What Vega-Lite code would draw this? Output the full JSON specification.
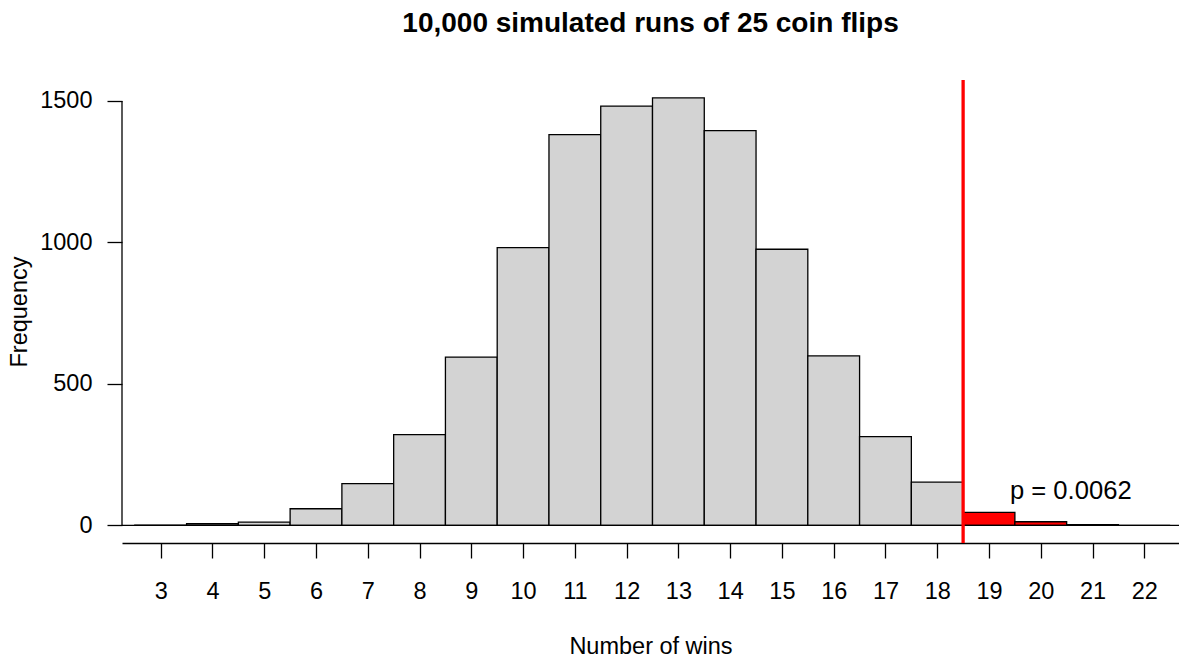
{
  "$schema": "https://vega.github.io/schema/vega-lite/v6.json",
  "width": 1057,
  "height": 463,
  "autosize": {"type": "none"},
  "padding": {"left": 122, "top": 80, "right": 0, "bottom": 115},
  "background": "white",
  "config": {
    "view": {"stroke": null},
    "font": "Liberation Sans"
  },
  "title": {
    "text": "10,000 simulated runs of 25 coin flips",
    "font": "Liberation Sans",
    "fontSize": 28,
    "fontWeight": "bold",
    "color": "black",
    "anchor": "middle",
    "baseline": "alphabetic",
    "offset": 18
  },
  "datasets": {
    "bars": [
      {"wins": 3, "x0": 2.5, "x1": 3.5, "count": 1, "tail": "no"},
      {"wins": 4, "x0": 3.5, "x1": 4.5, "count": 6, "tail": "no"},
      {"wins": 5, "x0": 4.5, "x1": 5.5, "count": 12, "tail": "no"},
      {"wins": 6, "x0": 5.5, "x1": 6.5, "count": 59, "tail": "no"},
      {"wins": 7, "x0": 6.5, "x1": 7.5, "count": 148, "tail": "no"},
      {"wins": 8, "x0": 7.5, "x1": 8.5, "count": 321, "tail": "no"},
      {"wins": 9, "x0": 8.5, "x1": 9.5, "count": 595, "tail": "no"},
      {"wins": 10, "x0": 9.5, "x1": 10.5, "count": 982, "tail": "no"},
      {"wins": 11, "x0": 10.5, "x1": 11.5, "count": 1381, "tail": "no"},
      {"wins": 12, "x0": 11.5, "x1": 12.5, "count": 1482, "tail": "no"},
      {"wins": 13, "x0": 12.5, "x1": 13.5, "count": 1511, "tail": "no"},
      {"wins": 14, "x0": 13.5, "x1": 14.5, "count": 1395, "tail": "no"},
      {"wins": 15, "x0": 14.5, "x1": 15.5, "count": 976, "tail": "no"},
      {"wins": 16, "x0": 15.5, "x1": 16.5, "count": 599, "tail": "no"},
      {"wins": 17, "x0": 16.5, "x1": 17.5, "count": 314, "tail": "no"},
      {"wins": 18, "x0": 17.5, "x1": 18.5, "count": 153, "tail": "no"},
      {"wins": 19, "x0": 18.5, "x1": 19.5, "count": 46, "tail": "yes"},
      {"wins": 20, "x0": 19.5, "x1": 20.5, "count": 13, "tail": "yes"},
      {"wins": 21, "x0": 20.5, "x1": 21.5, "count": 3, "tail": "yes"},
      {"wins": 22, "x0": 21.5, "x1": 22.5, "count": 0, "tail": "yes"}
    ]
  },
  "layer": [
    {
      "data": {"name": "bars"},
      "mark": {"type": "rect", "stroke": "black", "strokeWidth": 1.3},
      "encoding": {
        "x": {
          "field": "x0",
          "type": "quantitative",
          "scale": {"domain": [2.2525, 22.67], "nice": false, "zero": false},
          "axis": {
            "title": "Number of wins",
            "values": [3,4,5,6,7,8,9,10,11,12,13,14,15,16,17,18,19,20,21,22],
            "format": "d",
            "grid": false,
            "domain": true,
            "domainColor": "black",
            "domainWidth": 1.3,
            "ticks": true,
            "tickColor": "black",
            "tickWidth": 1.3,
            "tickSize": 15,
            "labelFont": "Liberation Sans",
            "labelFontSize": 23.5,
            "labelColor": "black",
            "labelPadding": 21,
            "labelFlush": false,
            "labelOverlap": false,
            "titleFont": "Liberation Sans",
            "titleFontSize": 23.5,
            "titleFontWeight": "normal",
            "titleColor": "black",
            "titleBaseline": "alphabetic",
            "titleY": 110
          }
        },
        "x2": {"field": "x1"},
        "y": {
          "field": "count",
          "type": "quantitative",
          "scale": {"domain": [-62, 1574], "nice": false, "zero": false},
          "axis": {
            "title": "Frequency",
            "values": [0, 500, 1000, 1500],
            "format": "d",
            "grid": false,
            "domain": false,
            "ticks": true,
            "tickColor": "black",
            "tickWidth": 1.3,
            "tickSize": 15,
            "labelFont": "Liberation Sans",
            "labelFontSize": 23.5,
            "labelColor": "black",
            "labelPadding": 15,
            "labelFlush": false,
            "labelOverlap": false,
            "titleFont": "Liberation Sans",
            "titleFontSize": 23.5,
            "titleFontWeight": "normal",
            "titleColor": "black",
            "titleBaseline": "alphabetic",
            "titleX": -95.3
          }
        },
        "y2": {"datum": 0},
        "fill": {
          "field": "tail",
          "type": "nominal",
          "scale": {"domain": ["no", "yes"], "range": ["#d3d3d3", "#ff0000"]},
          "legend": null
        }
      }
    },
    {
      "data": {"values": [{"level": 0}]},
      "mark": {"type": "rule", "color": "black", "strokeWidth": 1.3},
      "encoding": {
        "y": {"field": "level", "type": "quantitative"}
      }
    },
    {
      "data": {"values": [{"axisx": 2.2525, "from": 0, "to": 1500}]},
      "mark": {"type": "rule", "color": "black", "strokeWidth": 1.3},
      "encoding": {
        "x": {"field": "axisx", "type": "quantitative"},
        "y": {"field": "from", "type": "quantitative"},
        "y2": {"field": "to"}
      }
    },
    {
      "data": {"values": [{"cutoff": 18.5}]},
      "mark": {"type": "rule", "color": "#ff0000", "strokeWidth": 3.3},
      "encoding": {
        "x": {"field": "cutoff", "type": "quantitative"}
      }
    },
    {
      "data": {"values": [{"tx": 20.58, "ty": 92.6, "label": "p = 0.0062"}]},
      "mark": {"type": "text", "font": "Liberation Sans", "fontSize": 25.6, "color": "black", "align": "center", "baseline": "alphabetic"},
      "encoding": {
        "x": {"field": "tx", "type": "quantitative"},
        "y": {"field": "ty", "type": "quantitative"},
        "text": {"field": "label"}
      }
    }
  ]
}
